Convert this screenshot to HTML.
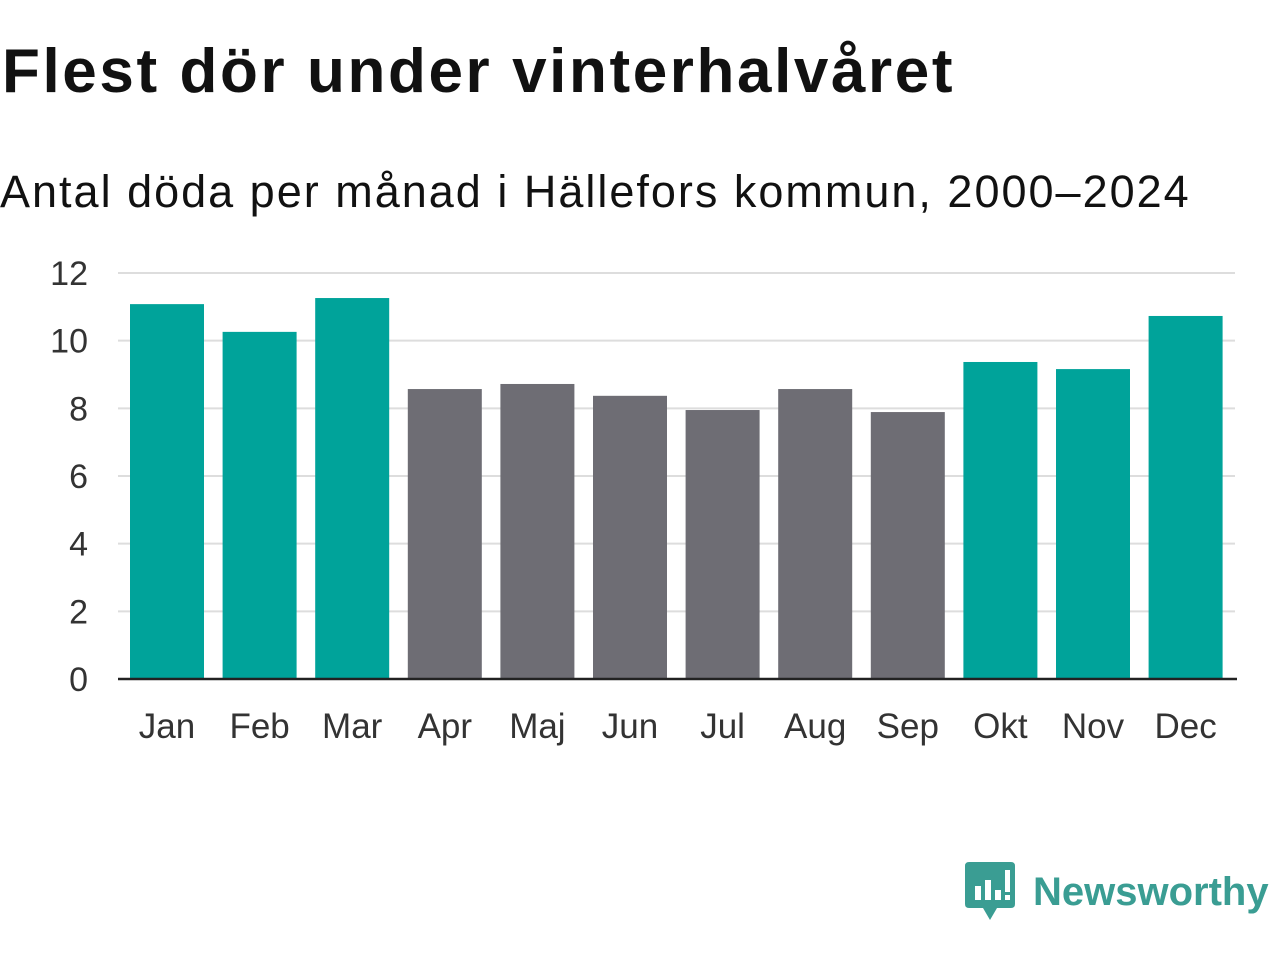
<!DOCTYPE html>
<html><head><meta charset="utf-8"><style>
body{margin:0;width:1280px;height:960px;background:#fff;font-family:"Liberation Sans","DejaVu Sans",sans-serif;position:relative;overflow:hidden}
#title{position:absolute;left:2px;top:36px;font-size:62px;font-weight:bold;color:#111;letter-spacing:2.6px;white-space:nowrap}
#sub{position:absolute;left:0;top:166px;font-size:45px;color:#111;letter-spacing:2px;white-space:nowrap}
#logo{position:absolute;left:965px;top:862px;display:flex;align-items:center}
#logo span{font-size:40px;color:#3a9d93;margin-left:18px;font-weight:bold}
</style></head><body>
<div id="title">Flest dör under vinterhalvåret</div>
<div id="sub">Antal döda per månad i Hällefors kommun, 2000–2024</div>
<svg id="chart" width="1280" height="960" style="position:absolute;left:0;top:0"></svg>
<div id="logo">
<svg width="50" height="60" viewBox="0 0 50 60"><path d="M0 4 Q0 0 4 0 H46 Q50 0 50 4 V42 Q50 46 46 46 H32 L25 58 L18 46 H4 Q0 46 0 42Z" fill="#3a9d93"/><rect x="10" y="24" width="6" height="14" fill="#fff"/><rect x="20" y="18" width="6" height="20" fill="#fff"/><rect x="30" y="28" width="6" height="10" fill="#fff"/><rect x="40" y="8" width="5" height="22" fill="#fff"/><rect x="40" y="33" width="5" height="5" fill="#fff"/></svg>
<span>Newsworthy</span></div>
<script>
const categories=["Jan","Feb","Mar","Apr","Maj","Jun","Jul","Aug","Sep","Okt","Nov","Dec"];
const values=[11.08,10.26,11.26,8.57,8.72,8.37,7.95,8.57,7.89,9.37,9.16,10.73];
const winter=[true,true,true,false,false,false,false,false,false,true,true,true];
const yTicks=[0,2,4,6,8,10,12];
const svg=document.getElementById('chart');
const NS='http://www.w3.org/2000/svg';
const x0=118,x1=1235,y0=679,y12=273;
const y=v=>y0-(y0-y12)*v/12;
const step=92.6;
function mk(t,a){const e=document.createElementNS(NS,t);for(const k in a)e.setAttribute(k,a[k]);svg.appendChild(e);return e;}
yTicks.forEach(t=>{
 if(t>0){const g=mk('line',{x1:x0,x2:x1,y1:y(t),y2:y(t),stroke:'#ddd','stroke-width':2});
 
 }
 const l=mk('text',{x:88,y:y(t)+12,'text-anchor':'end','font-size':34,fill:'#333','font-family':'Liberation Sans,sans-serif'});
 l.textContent=t;
 
 
});
categories.forEach((c,i)=>{
 const bx=130+step*i;
 const r=mk('rect',{x:bx,y:y(values[i]),width:74,height:y0-y(values[i]),fill:winter[i]?'#00a39a':'#6e6d74'});
 
 
 const t=mk('text',{x:bx+37,y:738,'text-anchor':'middle','font-size':35,fill:'#333','font-family':'Liberation Sans,sans-serif'});
 t.textContent=c;
 
 
});
const ax=mk('line',{x1:x0,x2:x1+2,y1:y0,y2:y0,stroke:'#222','stroke-width':2.5});


</script>
</body></html>
